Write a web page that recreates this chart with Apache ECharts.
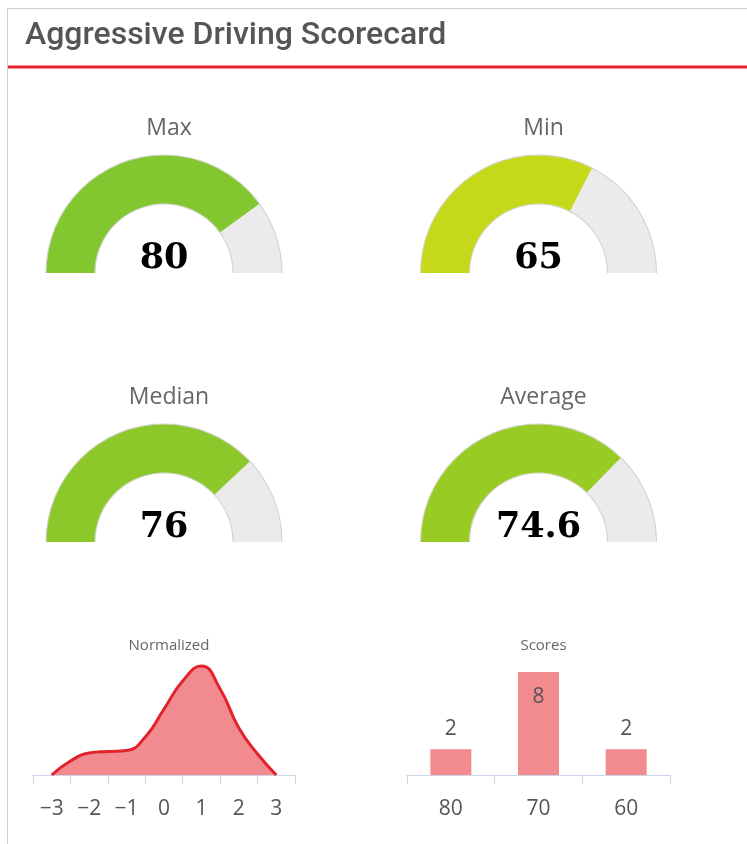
<!DOCTYPE html>
<html>
<head>
<meta charset="utf-8">
<script src="https://cdn.jsdelivr.net/npm/echarts@6/dist/echarts.min.js"></script>
<style>
  html, body { margin: 0; padding: 0; background: #fff; }
  #main { width: 747px; height: 844px; }
</style>
</head>
<body>
<div id="main"></div>
<script>
// gauge data
var gaugeNames = ['Max', 'Min', 'Median', 'Average'];
var gaugeValues = [80, 65, 76, 74.6];
var gaugeColors = ['#82c72f', '#c5d91a', '#8cc82a', '#98cc25'];

// normalized curve (x in std units, y = relative density)
var normX = [-3, -2.5, -2, -1.5, -1, -0.5, 0, 0.5, 1, 1.5, 2, 2.5, 3];
var normY = [0, 0.14, 0.22, 0.235, 0.245, 0.38, 0.66, 0.94, 1.09, 0.86, 0.47, 0.21, 0];
var normTicks = ['\u22123', '\u22122', '\u22121', '0', '1', '2', '3'];

// scores histogram
var scoreCats = ['80', '70', '60'];
var scoreCounts = [2, 8, 2];

var chart = echarts.init(document.getElementById('main'));

var centers = [[164, 273], [538.5, 273], [164, 542], [538.5, 542]];
var series = [];
var titles = [{
    text: 'Aggressive Driving Scorecard',
    left: 20, top: 15,
    textStyle: { fontFamily: 'Roboto', fontSize: 32, fontWeight: 500, color: '#555' }
}];

for (var i = 0; i < gaugeValues.length; i++) {
    // thin grey border behind the band
    series.push({
        type: 'gauge',
        center: centers[i],
        radius: 118.5,
        startAngle: 180, endAngle: 0,
        min: 0, max: 100,
        silent: true,
        axisLine: { lineStyle: { width: 50, color: [[1, '#cfcfcf']] } },
        axisTick: { show: false }, splitLine: { show: false },
        axisLabel: { show: false }, pointer: { show: false },
        detail: { show: false }, title: { show: false },
        data: [{ value: 0 }]
    });
    series.push({
        type: 'gauge',
        center: centers[i],
        radius: 117.5,
        startAngle: 180, endAngle: 0,
        min: 0, max: 100,
        axisLine: { lineStyle: { width: 48, color: [[1, '#ebebeb']] } },
        progress: { show: true, width: 48, itemStyle: { color: gaugeColors[i] } },
        axisTick: { show: false }, splitLine: { show: false },
        axisLabel: { show: false }, pointer: { show: false },
        anchor: { show: false },
        title: { show: false },
        detail: {
            offsetCenter: [0, -14],
            valueAnimation: false,
            fontFamily: 'DejaVu Serif',
            fontWeight: 'bold',
            fontSize: 35,
            color: '#000',
            formatter: function (v) { return String(v); }
        },
        data: [{ value: gaugeValues[i], name: gaugeNames[i] }]
    });
    titles.push({
        text: gaugeNames[i],
        left: centers[i][0], top: centers[i][1] - 161,
        textAlign: 'center',
        textStyle: { fontFamily: 'Open Sans', fontSize: 23, fontWeight: 'normal', color: '#666' }
    });
}

titles.push({
    text: 'Normalized', left: 164, top: 633, textAlign: 'center',
    textStyle: { fontFamily: 'Open Sans', fontSize: 15, fontWeight: 'normal', color: '#666' }
});
titles.push({
    text: 'Scores', left: 538.5, top: 633, textAlign: 'center',
    textStyle: { fontFamily: 'Open Sans', fontSize: 15, fontWeight: 'normal', color: '#666' }
});

var axisLineStyle = { lineStyle: { color: '#ccd6eb', width: 1 } };
var labelStyle = { fontFamily: 'Open Sans', fontSize: 21, color: '#555', margin: 24 };

series.push({
    type: 'line',
    xAxisIndex: 1, yAxisIndex: 0,
    smooth: 0.5,
    symbol: 'none',
    lineStyle: { color: '#e2232b', width: 3 },
    areaStyle: { color: '#f28b8f', opacity: 1 },
    data: normX.map(function (x, k) { return [x, normY[k]]; })
});

series.push({
    type: 'bar',
    xAxisIndex: 2, yAxisIndex: 1,
    barWidth: 41,
    itemStyle: { color: '#f28b8f' },
    label: {
        show: true, position: 'top', distance: 10,
        fontFamily: 'Open Sans', fontSize: 21, color: '#555'
    },
    data: scoreCounts.map(function (v, k) {
        var d = { value: v };
        if (v === Math.max.apply(null, scoreCounts)) {
            d.label = { position: 'insideTop', distance: 15 };
        }
        return d;
    })
});

chart.setOption({
    animation: false,
    backgroundColor: '#fff',
    title: titles,
    graphic: [
        { type: 'line', shape: { x1: 7.5, y1: 8, x2: 7.5, y2: 844 }, style: { stroke: '#d0d0d0', lineWidth: 1 } },
        { type: 'line', shape: { x1: 7, y1: 8.5, x2: 747, y2: 8.5 }, style: { stroke: '#d0d0d0', lineWidth: 1 } },
        { type: 'line', shape: { x1: 8, y1: 67, x2: 747, y2: 67 }, style: { stroke: '#e3202c', lineWidth: 3 } }
    ],
    grid: [
        { left: 33, top: 660, width: 262, height: 115 },
        { left: 407, top: 672, width: 263, height: 103 }
    ],
    xAxis: [
        {
            type: 'category', gridIndex: 0, data: normTicks, boundaryGap: true,
            axisLine: axisLineStyle,
            axisTick: { show: true, length: 9, lineStyle: { color: '#ccd6eb' } },
            axisLabel: labelStyle
        },
        {
            type: 'value', gridIndex: 0, min: -3.5, max: 3.5, show: false
        },
        {
            type: 'category', gridIndex: 1, data: scoreCats, boundaryGap: true,
            axisLine: axisLineStyle,
            axisTick: { show: true, length: 9, lineStyle: { color: '#ccd6eb' } },
            axisLabel: labelStyle
        }
    ],
    yAxis: [
        { type: 'value', gridIndex: 0, min: 0, max: 1.15, show: false },
        { type: 'value', gridIndex: 1, min: 0, max: 8, show: false }
    ],
    series: series
});
</script>
</body>
</html>
